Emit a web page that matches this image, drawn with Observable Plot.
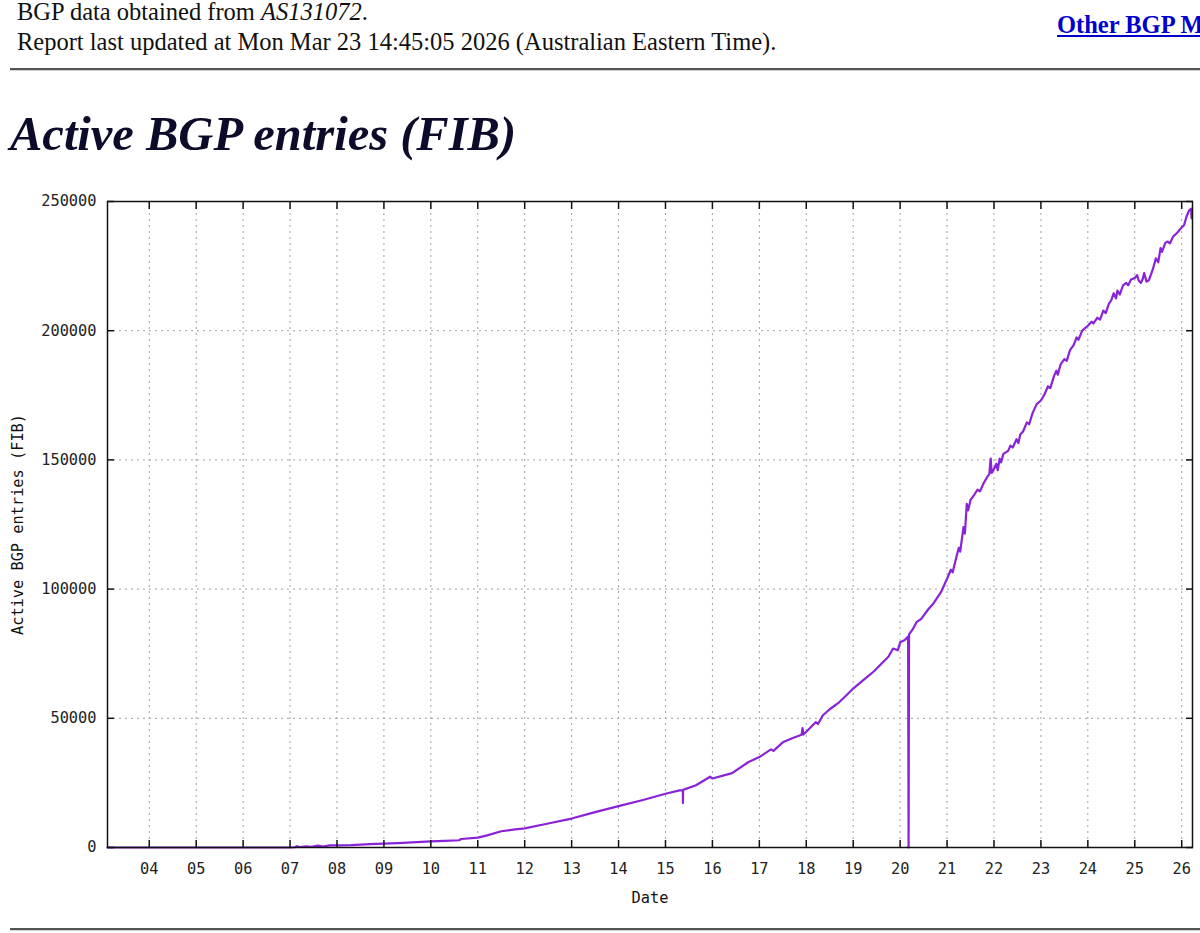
<!DOCTYPE html>
<html><head><meta charset="utf-8">
<script src="https://cdn.jsdelivr.net/npm/d3@7"></script>
<script src="https://cdn.jsdelivr.net/npm/@observablehq/plot@0.6"></script>
<style>
html,body{margin:0;padding:0;background:#fff;}
body{width:1200px;height:933px;overflow:hidden;position:relative;font-family:"Liberation Serif","Times New Roman",serif;}
.t{position:absolute;white-space:nowrap;color:#111;}
.hdr{font-size:24.5px;line-height:24.5px;left:17px;}
.link{font-size:24.5px;line-height:24.5px;left:1057px;top:13px;font-weight:bold;color:#0000cc;text-decoration:underline;}
.title{font-size:48.5px;line-height:48.5px;left:10px;top:110px;font-weight:bold;font-style:italic;color:#0c0c2a;}
.rule{position:absolute;left:10px;right:0;height:0;border-top:2px solid #555;border-bottom:1px solid #cfcfcf;}
#chart{position:absolute;left:0;top:180px;}
</style>
</head><body>
<div class="t hdr" style="top:0px">BGP data obtained from <i>AS131072</i>.</div>
<div class="t hdr" style="top:30px">Report last updated at Mon Mar 23 14:45:05 2026 (Australian Eastern Time).</div>
<div class="t link">Other BGP Mirrors</div>
<div class="rule" style="top:68px"></div>
<div class="t title">Active BGP entries (FIB)</div>
<div id="chart"></div>
<div class="rule" style="top:928px"></div>
<script>
// decimal year of each reading
const years = [
  2003.11, 2004.0, 2005.0, 2006.0, 2007.0, 2007.1, 2007.15, 2007.2, 2007.35, 2007.45,
  2007.6, 2007.7, 2007.85, 2008.0, 2008.3, 2008.6, 2008.7, 2009.0, 2009.3, 2009.6,
  2010.0, 2010.3, 2010.6, 2010.65, 2011.0, 2011.2, 2011.5, 2011.8, 2012.0, 2012.5,
  2013.0, 2013.5, 2014.0, 2014.5, 2015.0, 2015.3, 2015.37, 2015.372, 2015.375, 2015.65,
  2015.95, 2016.0, 2016.42, 2016.76, 2017.0, 2017.25, 2017.3, 2017.5, 2017.7, 2017.9,
  2017.92, 2017.94, 2018.0, 2018.2, 2018.25, 2018.35, 2018.5, 2018.7, 2018.85, 2019.0,
  2019.15, 2019.3, 2019.45, 2019.6, 2019.75, 2019.85, 2019.95, 2020.0, 2020.1, 2020.17,
  2020.18, 2020.19, 2020.27, 2020.35, 2020.45, 2020.6, 2020.7, 2020.87, 2021.0, 2021.08,
  2021.12, 2021.2, 2021.25, 2021.28, 2021.35, 2021.38, 2021.42, 2021.45, 2021.5, 2021.58,
  2021.65, 2021.7, 2021.78, 2021.86, 2021.9, 2021.93, 2021.95, 2022.0, 2022.05, 2022.08,
  2022.12, 2022.15, 2022.2, 2022.3, 2022.35, 2022.4, 2022.48, 2022.52, 2022.56, 2022.62,
  2022.7, 2022.75, 2022.82, 2022.91, 2023.0, 2023.08, 2023.15, 2023.2, 2023.28, 2023.33,
  2023.36, 2023.42, 2023.5, 2023.55, 2023.62, 2023.7, 2023.76, 2023.8, 2023.88, 2024.0,
  2024.08, 2024.12, 2024.2, 2024.26, 2024.33, 2024.38, 2024.45, 2024.5, 2024.55, 2024.6,
  2024.63, 2024.68, 2024.75, 2024.82, 2024.86, 2024.92, 2025.0, 2025.05, 2025.08, 2025.13,
  2025.17, 2025.2, 2025.25, 2025.3, 2025.38, 2025.45, 2025.5, 2025.55, 2025.58, 2025.65,
  2025.7, 2025.75, 2025.82, 2025.9, 2026.0, 2026.05, 2026.1, 2026.15, 2026.2, 2026.21,
  2026.22
];
// active BGP entries (FIB) at each reading
const entries = [
  0, 0, 0, 0, 0, 100, 500, 200, 400, 300,
  700, 400, 800, 800, 900, 1200, 1300, 1500, 1700, 2000,
  2400, 2600, 2800, 3300, 3800, 4700, 6300, 7000, 7400, 9300,
  11200, 13700, 16000, 18300, 20800, 22100, 22100, 17200, 22300, 24100,
  27400, 26700, 28800, 33000, 35000, 38000, 37400, 40700, 42300, 43600,
  46200, 43700, 44800, 48500, 47800, 51100, 53500, 56200, 58800, 61500,
  63800, 66000, 68300, 71100, 73800, 77000, 76300, 79400, 80300, 81700,
  0, 82500, 84500, 87200, 88500, 92200, 94200, 98800, 104000, 107500,
  106500, 112500, 116000, 114500, 124000, 121500, 133000, 130500, 134500, 136500,
  138500, 137800, 141000, 143500, 144500, 150500, 145000, 146500, 148500, 146000,
  150500, 149000, 152300, 153500, 155500, 154800, 158000, 156500, 159800, 161000,
  164500, 163800, 168000, 171600, 173000, 175500, 178500, 177800, 182500, 184500,
  183000, 187000, 189000, 188300, 192500, 194500, 197400, 196500, 200000, 201900,
  203500, 202800, 205000, 204300, 207800, 206800, 210500, 211800, 214500, 212500,
  215500, 214000, 217500, 218500, 217600, 219800, 220400, 221500, 219500, 218500,
  220000, 222300, 219000, 219500, 223500, 228000, 226500, 232000, 230500, 234000,
  234500, 233800, 236500, 237800, 240000, 240800, 244000, 246300, 247200, 243500,
  246000
];
const yearTicks = [2004,2005,2006,2007,2008,2009,2010,2011,2012,2013,2014,2015,2016,2017,2018,2019,2020,2021,2022,2023,2024,2025,2026];
const valueTicks = [0, 50000, 100000, 150000, 200000, 250000];
const valueGrid = [50000, 100000, 150000, 200000];
const xLabel = "Date";
const yLabel = "Active BGP entries (FIB)";

const data = years.map((x, i) => ({x, y: entries[i]}));
const gridStyle = {stroke: "#a0a0a0", strokeOpacity: 1, strokeWidth: 1, strokeDasharray: "2,4"};
const tickStyle = {stroke: "#111", strokeWidth: 1.5, fill: "none", label: null};

const chart = Plot.plot({
  width: 1200, height: 750,
  marginLeft: 107, marginRight: 8, marginTop: 21, marginBottom: 83,
  style: {fontFamily: "'DejaVu Sans Mono', monospace", fontSize: "15.3px", color: "#222", background: "white", overflow: "visible"},
  x: {type: "linear", domain: [2003.11, 2026.23]},
  y: {domain: [0, 250000]},
  marks: [
    Plot.gridX(yearTicks, gridStyle),
    Plot.gridY(valueGrid, gridStyle),
    Plot.line(data, {x: "x", y: "y", stroke: "#8a22d8", strokeWidth: 2.2}),
    Plot.frame({stroke: "#111", strokeWidth: 1.5}),
    Plot.axisX(yearTicks, {anchor: "bottom", tickSize: 0, tickPadding: 16, tickFormat: d => String(d % 100).padStart(2, "0"), label: null}),
    Plot.axisX(yearTicks, {anchor: "bottom", tickSize: -7, ...tickStyle}),
    Plot.axisX(yearTicks, {anchor: "top", tickSize: -7, ...tickStyle}),
    Plot.axisY(valueTicks, {anchor: "left", tickSize: 0, tickPadding: 11, tickFormat: d => String(d), label: null}),
    Plot.axisY(valueTicks, {anchor: "left", tickSize: -7, ...tickStyle}),
    Plot.axisY(valueTicks, {anchor: "right", tickSize: -7, ...tickStyle}),
    Plot.text([xLabel], {frameAnchor: "bottom", dy: 51, text: d => d, fill: "#111", textAnchor: "middle", lineAnchor: "middle"}),
    Plot.text([yLabel], {frameAnchor: "left", dx: -89, rotate: -90, text: d => d, fill: "#111", textAnchor: "middle", lineAnchor: "middle"})
  ]
});
document.getElementById("chart").appendChild(chart);
</script>
</body></html>
